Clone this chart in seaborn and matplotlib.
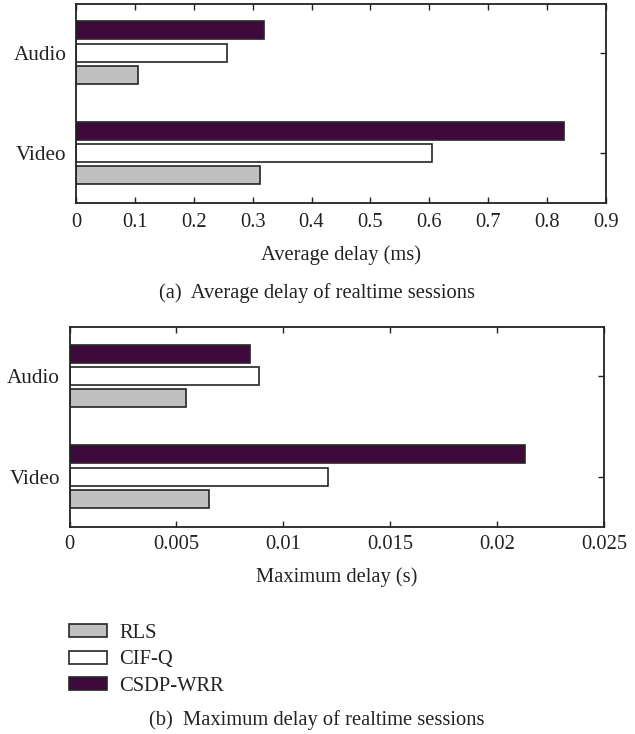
import matplotlib
matplotlib.use('Agg')
import matplotlib.pyplot as plt
import seaborn as sns
import pandas as pd
from matplotlib.patches import Patch

# ---- data ----
categories = ['Audio', 'Video']
schemes = ['RLS', 'CIF-Q', 'CSDP-WRR']
avg_rls = [0.105, 0.313]
avg_cifq = [0.257, 0.605]
avg_csdp = [0.320, 0.829]
max_rls = [0.00545, 0.00654]
max_cifq = [0.00887, 0.0121]
max_csdp = [0.00845, 0.0213]
avg_ticks = [0, 0.1, 0.2, 0.3, 0.4, 0.5, 0.6, 0.7, 0.8, 0.9]
avg_tick_labels = ['0', '0.1', '0.2', '0.3', '0.4', '0.5', '0.6', '0.7', '0.8', '0.9']
max_ticks = [0, 0.005, 0.01, 0.015, 0.02, 0.025]
max_tick_labels = ['0', '0.005', '0.01', '0.015', '0.02', '0.025']
avg_xlabel = 'Average delay (ms)'
max_xlabel = 'Maximum delay (s)'
caption_a = '(a)  Average delay of realtime sessions'
caption_b = '(b)  Maximum delay of realtime sessions'

colors = {'RLS': '#c0c0c0', 'CIF-Q': '#ffffff', 'CSDP-WRR': '#3e0a3b'}
edge = '#262626'

sns.set_theme(style='white')
plt.rcParams['font.family'] = ['Liberation Serif', 'DejaVu Serif']
plt.rcParams['text.color'] = '#222222'


def make_df(rls, cifq, csdp):
    rows = []
    for name, vals in zip(schemes, [rls, cifq, csdp]):
        for c, v in zip(categories, vals):
            rows.append({'session': c, 'scheme': name, 'value': v})
    return pd.DataFrame(rows)


fig = plt.figure(figsize=(6.35, 7.34), dpi=100)
W, H = 635, 734
ax1 = fig.add_axes([76 / W, 1 - 203 / H, (606 - 76) / W, (203 - 4) / H])
ax2 = fig.add_axes([69.5 / W, 1 - 527 / H, (604 - 69.5) / W, (527 - 327) / H])

panels = [
    (ax1, make_df(avg_rls, avg_cifq, avg_csdp), avg_ticks, avg_tick_labels, avg_xlabel, 7.5),
    (ax2, make_df(max_rls, max_cifq, max_csdp), max_ticks, max_tick_labels, max_xlabel, 6),
]

for ax, df, ticks, tlabels, xlabel, tpad in panels:
    sns.barplot(data=df, y='session', x='value', hue='scheme',
                order=categories, hue_order=['CSDP-WRR', 'CIF-Q', 'RLS'],
                palette=colors, orient='h', width=0.666, gap=0.19,
                edgecolor=edge, linewidth=1.2, saturation=1,
                errorbar=None, legend=False, ax=ax)
    ax.set_xlim(ticks[0], ticks[-1])
    ax.set_ylim(1.50, -0.486)
    ax.set_xticks(ticks)
    ax.set_xticklabels(tlabels)
    ax.set_xlabel(xlabel, fontsize=14.8, labelpad=9, color='#222222')
    ax.set_ylabel('')
    ax.tick_params(axis='x', direction='in', top=True, bottom=True, length=4,
                   width=1.0, color='#222222', labelsize=14.8, pad=tpad,
                   labelcolor='#222222')
    ax.tick_params(axis='y', direction='in', left=False, right=True, length=4,
                   width=1.0, color='#222222', labelsize=15.2, pad=7,
                   labelcolor='#222222')
    for s in ax.spines.values():
        s.set_visible(True)
        s.set_color('#222222')
        s.set_linewidth(1.3)
    ax.grid(False)

fig.text(317 / W, 1 - 293 / H, caption_a, ha='center', va='center', fontsize=14.8)
fig.text(317 / W, 1 - 720 / H, caption_b, ha='center', va='center', fontsize=14.8)

handles = [Patch(facecolor=colors[s], edgecolor=edge, linewidth=1.2, label=s)
           for s in schemes]
fig.legend(handles=handles, loc='upper left',
           bbox_to_anchor=(69 / W, 1 - 624 / H), frameon=False,
           fontsize=14.8, handlelength=1.84, handleheight=0.58,
           handletextpad=0.6, labelspacing=0.36, borderpad=0,
           borderaxespad=0)

fig.savefig('out.png', dpi=100)
